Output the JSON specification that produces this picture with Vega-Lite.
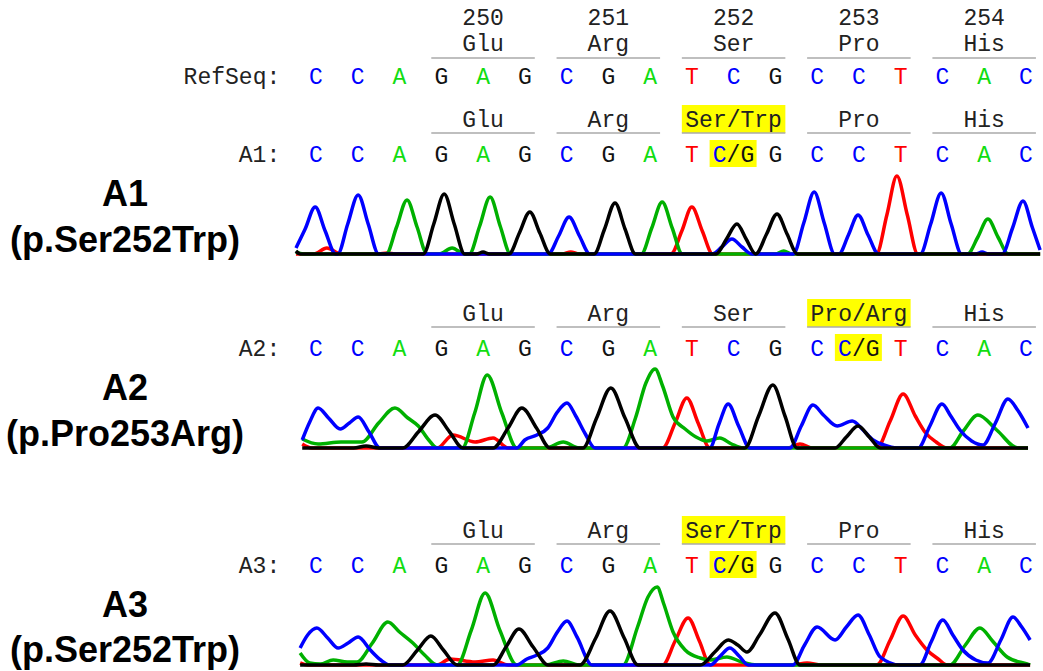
{
"$schema": "https://vega.github.io/schema/vega-lite/v6.json",
"padding": 0,
"background": "white",
"spacing": 0,
"bounds": "flush",
"columns": 2,
"config": {"view": {"stroke": null}, "axis": {"disable": true}, "legend": {"disable": true}},
"datasets": {
"bases": [
{"s":"RefSeq","pos":1,"b":"C"},{"s":"RefSeq","pos":2,"b":"C"},{"s":"RefSeq","pos":3,"b":"A"},{"s":"RefSeq","pos":4,"b":"G"},{"s":"RefSeq","pos":5,"b":"A"},{"s":"RefSeq","pos":6,"b":"G"},{"s":"RefSeq","pos":7,"b":"C"},{"s":"RefSeq","pos":8,"b":"G"},{"s":"RefSeq","pos":9,"b":"A"},{"s":"RefSeq","pos":10,"b":"T"},{"s":"RefSeq","pos":11,"b":"C"},{"s":"RefSeq","pos":12,"b":"G"},{"s":"RefSeq","pos":13,"b":"C"},{"s":"RefSeq","pos":14,"b":"C"},{"s":"RefSeq","pos":15,"b":"T"},{"s":"RefSeq","pos":16,"b":"C"},{"s":"RefSeq","pos":17,"b":"A"},{"s":"RefSeq","pos":18,"b":"C"},
{"s":"A1","pos":1,"b":"C"},{"s":"A1","pos":2,"b":"C"},{"s":"A1","pos":3,"b":"A"},{"s":"A1","pos":4,"b":"G"},{"s":"A1","pos":5,"b":"A"},{"s":"A1","pos":6,"b":"G"},{"s":"A1","pos":7,"b":"C"},{"s":"A1","pos":8,"b":"G"},{"s":"A1","pos":9,"b":"A"},{"s":"A1","pos":10,"b":"T"},{"s":"A1","pos":12,"b":"G"},{"s":"A1","pos":13,"b":"C"},{"s":"A1","pos":14,"b":"C"},{"s":"A1","pos":15,"b":"T"},{"s":"A1","pos":16,"b":"C"},{"s":"A1","pos":17,"b":"A"},{"s":"A1","pos":18,"b":"C"},
{"s":"A2","pos":1,"b":"C"},{"s":"A2","pos":2,"b":"C"},{"s":"A2","pos":3,"b":"A"},{"s":"A2","pos":4,"b":"G"},{"s":"A2","pos":5,"b":"A"},{"s":"A2","pos":6,"b":"G"},{"s":"A2","pos":7,"b":"C"},{"s":"A2","pos":8,"b":"G"},{"s":"A2","pos":9,"b":"A"},{"s":"A2","pos":10,"b":"T"},{"s":"A2","pos":11,"b":"C"},{"s":"A2","pos":12,"b":"G"},{"s":"A2","pos":13,"b":"C"},{"s":"A2","pos":15,"b":"T"},{"s":"A2","pos":16,"b":"C"},{"s":"A2","pos":17,"b":"A"},{"s":"A2","pos":18,"b":"C"},
{"s":"A3","pos":1,"b":"C"},{"s":"A3","pos":2,"b":"C"},{"s":"A3","pos":3,"b":"A"},{"s":"A3","pos":4,"b":"G"},{"s":"A3","pos":5,"b":"A"},{"s":"A3","pos":6,"b":"G"},{"s":"A3","pos":7,"b":"C"},{"s":"A3","pos":8,"b":"G"},{"s":"A3","pos":9,"b":"A"},{"s":"A3","pos":10,"b":"T"},{"s":"A3","pos":12,"b":"G"},{"s":"A3","pos":13,"b":"C"},{"s":"A3","pos":14,"b":"C"},{"s":"A3","pos":15,"b":"T"},{"s":"A3","pos":16,"b":"C"},{"s":"A3","pos":17,"b":"A"},{"s":"A3","pos":18,"b":"C"}
],
"het": [
{"s":"A1","pos":11,"b1":"C","b2":"/G"},
{"s":"A2","pos":14,"b1":"C","b2":"/G"},
{"s":"A3","pos":11,"b1":"C","b2":"/G"}
],
"codons": [
{"s":"RefSeq","start":4,"mid":5,"end":6,"aa":"Glu","num":"250","hl":false},
{"s":"RefSeq","start":7,"mid":8,"end":9,"aa":"Arg","num":"251","hl":false},
{"s":"RefSeq","start":10,"mid":11,"end":12,"aa":"Ser","num":"252","hl":false},
{"s":"RefSeq","start":13,"mid":14,"end":15,"aa":"Pro","num":"253","hl":false},
{"s":"RefSeq","start":16,"mid":17,"end":18,"aa":"His","num":"254","hl":false},
{"s":"A1","start":4,"mid":5,"end":6,"aa":"Glu","hl":false},
{"s":"A1","start":7,"mid":8,"end":9,"aa":"Arg","hl":false},
{"s":"A1","start":10,"mid":11,"end":12,"aa":"Ser/Trp","hl":true},
{"s":"A1","start":13,"mid":14,"end":15,"aa":"Pro","hl":false},
{"s":"A1","start":16,"mid":17,"end":18,"aa":"His","hl":false},
{"s":"A2","start":4,"mid":5,"end":6,"aa":"Glu","hl":false},
{"s":"A2","start":7,"mid":8,"end":9,"aa":"Arg","hl":false},
{"s":"A2","start":10,"mid":11,"end":12,"aa":"Ser","hl":false},
{"s":"A2","start":13,"mid":14,"end":15,"aa":"Pro/Arg","hl":true},
{"s":"A2","start":16,"mid":17,"end":18,"aa":"His","hl":false},
{"s":"A3","start":4,"mid":5,"end":6,"aa":"Glu","hl":false},
{"s":"A3","start":7,"mid":8,"end":9,"aa":"Arg","hl":false},
{"s":"A3","start":10,"mid":11,"end":12,"aa":"Ser/Trp","hl":true},
{"s":"A3","start":13,"mid":14,"end":15,"aa":"Pro","hl":false},
{"s":"A3","start":16,"mid":17,"end":18,"aa":"His","hl":false}
],
"prefix": [
{"s":"RefSeq","t":"RefSeq:"},{"s":"A1","t":"A1:"},{"s":"A2","t":"A2:"},{"s":"A3","t":"A3:"}
],
"labels": [
{"s":"A1","line":"name","t":"A1"},{"s":"A1","line":"mut","t":"(p.Ser252Trp)"},
{"s":"A2","line":"name","t":"A2"},{"s":"A2","line":"mut","t":"(p.Pro253Arg)"},
{"s":"A3","line":"name","t":"A3"},{"s":"A3","line":"mut","t":"(p.Ser252Trp)"}
],
"traces": [
{"s":"A1","d":"T","p":0.52,"v":0},{"s":"A1","d":"T","p":0.95,"v":0},{"s":"A1","d":"T","p":1.26,"v":6},{"s":"A1","d":"T","p":1.6,"v":0},{"s":"A1","d":"T","p":2.5,"v":0},{"s":"A1","d":"T","p":2.7,"v":1},{"s":"A1","d":"T","p":2.9,"v":0},{"s":"A1","d":"T","p":6.9,"v":0},{"s":"A1","d":"T","p":7.1,"v":2},{"s":"A1","d":"T","p":7.3,"v":0},{"s":"A1","d":"T","p":9.5,"v":0},{"s":"A1","d":"T","p":9.76,"v":23},{"s":"A1","d":"T","p":10.0,"v":47},{"s":"A1","d":"T","p":10.25,"v":23},{"s":"A1","d":"T","p":10.5,"v":0},{"s":"A1","d":"T","p":14.42,"v":0},{"s":"A1","d":"T","p":14.67,"v":39},{"s":"A1","d":"T","p":14.91,"v":78},{"s":"A1","d":"T","p":15.16,"v":39},{"s":"A1","d":"T","p":15.41,"v":0},{"s":"A1","d":"T","p":18.34,"v":0},
{"s":"A1","d":"A","p":0.52,"v":2},{"s":"A1","d":"A","p":0.7,"v":0},{"s":"A1","d":"A","p":2.68,"v":0},{"s":"A1","d":"A","p":2.93,"v":27},{"s":"A1","d":"A","p":3.18,"v":54},{"s":"A1","d":"A","p":3.42,"v":27},{"s":"A1","d":"A","p":3.66,"v":0},{"s":"A1","d":"A","p":3.95,"v":0},{"s":"A1","d":"A","p":4.26,"v":6},{"s":"A1","d":"A","p":4.55,"v":0},{"s":"A1","d":"A","p":4.67,"v":0},{"s":"A1","d":"A","p":4.92,"v":28},{"s":"A1","d":"A","p":5.17,"v":57},{"s":"A1","d":"A","p":5.41,"v":28},{"s":"A1","d":"A","p":5.66,"v":0},{"s":"A1","d":"A","p":8.79,"v":0},{"s":"A1","d":"A","p":9.04,"v":26},{"s":"A1","d":"A","p":9.29,"v":52},{"s":"A1","d":"A","p":9.53,"v":26},{"s":"A1","d":"A","p":9.77,"v":0},{"s":"A1","d":"A","p":12.0,"v":0},{"s":"A1","d":"A","p":12.2,"v":3},{"s":"A1","d":"A","p":12.4,"v":0},{"s":"A1","d":"A","p":16.6,"v":0},{"s":"A1","d":"A","p":16.85,"v":17},{"s":"A1","d":"A","p":17.09,"v":35},{"s":"A1","d":"A","p":17.33,"v":17},{"s":"A1","d":"A","p":17.58,"v":0},{"s":"A1","d":"A","p":18.34,"v":0},
{"s":"A1","d":"C","p":0.52,"v":6},{"s":"A1","d":"C","p":0.74,"v":25},{"s":"A1","d":"C","p":0.98,"v":47},{"s":"A1","d":"C","p":1.22,"v":23},{"s":"A1","d":"C","p":1.47,"v":0},{"s":"A1","d":"C","p":1.52,"v":0},{"s":"A1","d":"C","p":1.76,"v":30},{"s":"A1","d":"C","p":2.01,"v":59},{"s":"A1","d":"C","p":2.25,"v":30},{"s":"A1","d":"C","p":2.5,"v":0},{"s":"A1","d":"C","p":6.56,"v":0},{"s":"A1","d":"C","p":6.81,"v":18},{"s":"A1","d":"C","p":7.06,"v":37},{"s":"A1","d":"C","p":7.31,"v":18},{"s":"A1","d":"C","p":7.56,"v":0},{"s":"A1","d":"C","p":10.48,"v":0},{"s":"A1","d":"C","p":10.72,"v":7},{"s":"A1","d":"C","p":10.96,"v":15},{"s":"A1","d":"C","p":11.2,"v":7},{"s":"A1","d":"C","p":11.44,"v":0},{"s":"A1","d":"C","p":12.43,"v":0},{"s":"A1","d":"C","p":12.68,"v":31},{"s":"A1","d":"C","p":12.93,"v":62},{"s":"A1","d":"C","p":13.17,"v":31},{"s":"A1","d":"C","p":13.42,"v":0},{"s":"A1","d":"C","p":13.52,"v":0},{"s":"A1","d":"C","p":13.75,"v":19},{"s":"A1","d":"C","p":13.98,"v":39},{"s":"A1","d":"C","p":14.22,"v":19},{"s":"A1","d":"C","p":14.47,"v":0},{"s":"A1","d":"C","p":15.47,"v":0},{"s":"A1","d":"C","p":15.72,"v":30},{"s":"A1","d":"C","p":15.97,"v":61},{"s":"A1","d":"C","p":16.21,"v":30},{"s":"A1","d":"C","p":16.46,"v":0},{"s":"A1","d":"C","p":16.8,"v":0},{"s":"A1","d":"C","p":16.95,"v":2},{"s":"A1","d":"C","p":17.1,"v":0},{"s":"A1","d":"C","p":17.43,"v":0},{"s":"A1","d":"C","p":17.68,"v":26},{"s":"A1","d":"C","p":17.93,"v":53},{"s":"A1","d":"C","p":18.15,"v":27},{"s":"A1","d":"C","p":18.34,"v":4},
{"s":"A1","d":"G","p":0.52,"v":3},{"s":"A1","d":"G","p":0.62,"v":0},{"s":"A1","d":"G","p":3.57,"v":0},{"s":"A1","d":"G","p":3.82,"v":30},{"s":"A1","d":"G","p":4.07,"v":60},{"s":"A1","d":"G","p":4.31,"v":30},{"s":"A1","d":"G","p":4.56,"v":0},{"s":"A1","d":"G","p":4.85,"v":0},{"s":"A1","d":"G","p":5.0,"v":2},{"s":"A1","d":"G","p":5.15,"v":0},{"s":"A1","d":"G","p":5.62,"v":0},{"s":"A1","d":"G","p":5.87,"v":21},{"s":"A1","d":"G","p":6.12,"v":42},{"s":"A1","d":"G","p":6.36,"v":21},{"s":"A1","d":"G","p":6.61,"v":0},{"s":"A1","d":"G","p":7.66,"v":0},{"s":"A1","d":"G","p":7.91,"v":25},{"s":"A1","d":"G","p":8.16,"v":51},{"s":"A1","d":"G","p":8.4,"v":25},{"s":"A1","d":"G","p":8.65,"v":0},{"s":"A1","d":"G","p":10.58,"v":0},{"s":"A1","d":"G","p":10.83,"v":15},{"s":"A1","d":"G","p":11.08,"v":30},{"s":"A1","d":"G","p":11.3,"v":15},{"s":"A1","d":"G","p":11.53,"v":0},{"s":"A1","d":"G","p":11.79,"v":20},{"s":"A1","d":"G","p":12.04,"v":40},{"s":"A1","d":"G","p":12.28,"v":20},{"s":"A1","d":"G","p":12.53,"v":0},{"s":"A1","d":"G","p":18.34,"v":0},
{"s":"A2","d":"T","p":0.67,"v":4},{"s":"A2","d":"T","p":0.9,"v":0},{"s":"A2","d":"T","p":3.9,"v":0},{"s":"A2","d":"T","p":4.28,"v":13},{"s":"A2","d":"T","p":4.81,"v":6},{"s":"A2","d":"T","p":5.24,"v":10},{"s":"A2","d":"T","p":5.6,"v":0},{"s":"A2","d":"T","p":9.3,"v":0},{"s":"A2","d":"T","p":9.6,"v":25},{"s":"A2","d":"T","p":9.88,"v":50},{"s":"A2","d":"T","p":10.15,"v":25},{"s":"A2","d":"T","p":10.43,"v":0},{"s":"A2","d":"T","p":12.3,"v":0},{"s":"A2","d":"T","p":12.59,"v":4},{"s":"A2","d":"T","p":12.9,"v":0},{"s":"A2","d":"T","p":14.43,"v":0},{"s":"A2","d":"T","p":14.75,"v":27},{"s":"A2","d":"T","p":15.06,"v":54},{"s":"A2","d":"T","p":15.35,"v":32},{"s":"A2","d":"T","p":15.6,"v":15},{"s":"A2","d":"T","p":15.85,"v":6},{"s":"A2","d":"T","p":16.11,"v":0},{"s":"A2","d":"T","p":18.05,"v":0},
{"s":"A2","d":"A","p":0.67,"v":9},{"s":"A2","d":"A","p":1.05,"v":4},{"s":"A2","d":"A","p":1.6,"v":6},{"s":"A2","d":"A","p":2.1,"v":6},{"s":"A2","d":"A","p":2.5,"v":25},{"s":"A2","d":"A","p":2.89,"v":40},{"s":"A2","d":"A","p":3.2,"v":30},{"s":"A2","d":"A","p":3.45,"v":22},{"s":"A2","d":"A","p":3.7,"v":8},{"s":"A2","d":"A","p":3.9,"v":0},{"s":"A2","d":"A","p":4.5,"v":0},{"s":"A2","d":"A","p":4.8,"v":35},{"s":"A2","d":"A","p":5.1,"v":73},{"s":"A2","d":"A","p":5.45,"v":35},{"s":"A2","d":"A","p":5.81,"v":0},{"s":"A2","d":"A","p":6.5,"v":0},{"s":"A2","d":"A","p":6.92,"v":6},{"s":"A2","d":"A","p":7.3,"v":0},{"s":"A2","d":"A","p":8.35,"v":0},{"s":"A2","d":"A","p":8.65,"v":30},{"s":"A2","d":"A","p":8.9,"v":65},{"s":"A2","d":"A","p":9.12,"v":79},{"s":"A2","d":"A","p":9.3,"v":62},{"s":"A2","d":"A","p":9.55,"v":31},{"s":"A2","d":"A","p":9.84,"v":19},{"s":"A2","d":"A","p":10.1,"v":11},{"s":"A2","d":"A","p":10.36,"v":7},{"s":"A2","d":"A","p":10.67,"v":10},{"s":"A2","d":"A","p":10.95,"v":4},{"s":"A2","d":"A","p":11.23,"v":0},{"s":"A2","d":"A","p":16.18,"v":0},{"s":"A2","d":"A","p":16.5,"v":17},{"s":"A2","d":"A","p":16.85,"v":33},{"s":"A2","d":"A","p":17.3,"v":18},{"s":"A2","d":"A","p":17.81,"v":0},{"s":"A2","d":"A","p":18.05,"v":0},
{"s":"A2","d":"C","p":0.67,"v":8},{"s":"A2","d":"C","p":0.85,"v":26},{"s":"A2","d":"C","p":1.05,"v":40},{"s":"A2","d":"C","p":1.3,"v":30},{"s":"A2","d":"C","p":1.58,"v":19},{"s":"A2","d":"C","p":1.8,"v":25},{"s":"A2","d":"C","p":2.01,"v":31},{"s":"A2","d":"C","p":2.27,"v":16},{"s":"A2","d":"C","p":2.53,"v":0},{"s":"A2","d":"C","p":5.81,"v":0},{"s":"A2","d":"C","p":6.0,"v":8},{"s":"A2","d":"C","p":6.29,"v":13},{"s":"A2","d":"C","p":6.55,"v":20},{"s":"A2","d":"C","p":6.78,"v":36},{"s":"A2","d":"C","p":7.01,"v":45},{"s":"A2","d":"C","p":7.22,"v":32},{"s":"A2","d":"C","p":7.45,"v":14},{"s":"A2","d":"C","p":7.68,"v":0},{"s":"A2","d":"C","p":10.43,"v":0},{"s":"A2","d":"C","p":10.65,"v":24},{"s":"A2","d":"C","p":10.87,"v":44},{"s":"A2","d":"C","p":11.12,"v":22},{"s":"A2","d":"C","p":11.39,"v":0},{"s":"A2","d":"C","p":12.35,"v":0},{"s":"A2","d":"C","p":12.62,"v":22},{"s":"A2","d":"C","p":12.9,"v":43},{"s":"A2","d":"C","p":13.15,"v":33},{"s":"A2","d":"C","p":13.48,"v":22},{"s":"A2","d":"C","p":13.84,"v":27},{"s":"A2","d":"C","p":14.1,"v":18},{"s":"A2","d":"C","p":14.34,"v":8},{"s":"A2","d":"C","p":14.6,"v":3},{"s":"A2","d":"C","p":14.91,"v":0},{"s":"A2","d":"C","p":15.42,"v":0},{"s":"A2","d":"C","p":15.7,"v":22},{"s":"A2","d":"C","p":15.99,"v":44},{"s":"A2","d":"C","p":16.2,"v":32},{"s":"A2","d":"C","p":16.42,"v":18},{"s":"A2","d":"C","p":16.7,"v":7},{"s":"A2","d":"C","p":16.97,"v":3},{"s":"A2","d":"C","p":17.27,"v":25},{"s":"A2","d":"C","p":17.57,"v":49},{"s":"A2","d":"C","p":17.8,"v":38},{"s":"A2","d":"C","p":18.05,"v":20},
{"s":"A2","d":"G","p":0.67,"v":0},{"s":"A2","d":"G","p":1.9,"v":0},{"s":"A2","d":"G","p":2.2,"v":2},{"s":"A2","d":"G","p":2.5,"v":0},{"s":"A2","d":"G","p":3.08,"v":0},{"s":"A2","d":"G","p":3.45,"v":16},{"s":"A2","d":"G","p":3.85,"v":33},{"s":"A2","d":"G","p":4.2,"v":16},{"s":"A2","d":"G","p":4.52,"v":0},{"s":"A2","d":"G","p":5.24,"v":0},{"s":"A2","d":"G","p":5.6,"v":20},{"s":"A2","d":"G","p":5.93,"v":40},{"s":"A2","d":"G","p":6.28,"v":20},{"s":"A2","d":"G","p":6.6,"v":0},{"s":"A2","d":"G","p":7.39,"v":0},{"s":"A2","d":"G","p":7.72,"v":30},{"s":"A2","d":"G","p":8.06,"v":60},{"s":"A2","d":"G","p":8.4,"v":30},{"s":"A2","d":"G","p":8.76,"v":0},{"s":"A2","d":"G","p":11.27,"v":0},{"s":"A2","d":"G","p":11.6,"v":32},{"s":"A2","d":"G","p":11.94,"v":63},{"s":"A2","d":"G","p":12.23,"v":32},{"s":"A2","d":"G","p":12.52,"v":0},{"s":"A2","d":"G","p":13.43,"v":0},{"s":"A2","d":"G","p":13.7,"v":11},{"s":"A2","d":"G","p":13.98,"v":22},{"s":"A2","d":"G","p":14.25,"v":11},{"s":"A2","d":"G","p":14.51,"v":0},{"s":"A2","d":"G","p":18.05,"v":0},
{"s":"A3","d":"T","p":0.62,"v":2},{"s":"A3","d":"T","p":0.8,"v":0},{"s":"A3","d":"T","p":3.9,"v":0},{"s":"A3","d":"T","p":4.21,"v":6},{"s":"A3","d":"T","p":4.81,"v":3},{"s":"A3","d":"T","p":5.24,"v":5},{"s":"A3","d":"T","p":5.6,"v":0},{"s":"A3","d":"T","p":9.3,"v":0},{"s":"A3","d":"T","p":9.6,"v":24},{"s":"A3","d":"T","p":9.91,"v":47},{"s":"A3","d":"T","p":10.18,"v":24},{"s":"A3","d":"T","p":10.44,"v":0},{"s":"A3","d":"T","p":12.4,"v":0},{"s":"A3","d":"T","p":12.76,"v":2},{"s":"A3","d":"T","p":13.1,"v":0},{"s":"A3","d":"T","p":14.43,"v":0},{"s":"A3","d":"T","p":14.75,"v":25},{"s":"A3","d":"T","p":15.06,"v":49},{"s":"A3","d":"T","p":15.35,"v":30},{"s":"A3","d":"T","p":15.63,"v":15},{"s":"A3","d":"T","p":15.9,"v":6},{"s":"A3","d":"T","p":16.11,"v":0},{"s":"A3","d":"T","p":18.1,"v":0},
{"s":"A3","d":"A","p":0.62,"v":12},{"s":"A3","d":"A","p":0.85,"v":2},{"s":"A3","d":"A","p":1.1,"v":1},{"s":"A3","d":"A","p":1.41,"v":5},{"s":"A3","d":"A","p":1.75,"v":3},{"s":"A3","d":"A","p":1.98,"v":3},{"s":"A3","d":"A","p":2.35,"v":22},{"s":"A3","d":"A","p":2.72,"v":43},{"s":"A3","d":"A","p":3.0,"v":33},{"s":"A3","d":"A","p":3.32,"v":22},{"s":"A3","d":"A","p":3.6,"v":10},{"s":"A3","d":"A","p":3.9,"v":0},{"s":"A3","d":"A","p":4.38,"v":0},{"s":"A3","d":"A","p":4.72,"v":35},{"s":"A3","d":"A","p":5.05,"v":72},{"s":"A3","d":"A","p":5.4,"v":35},{"s":"A3","d":"A","p":5.81,"v":0},{"s":"A3","d":"A","p":6.5,"v":0},{"s":"A3","d":"A","p":6.92,"v":4},{"s":"A3","d":"A","p":7.3,"v":0},{"s":"A3","d":"A","p":8.35,"v":0},{"s":"A3","d":"A","p":8.7,"v":38},{"s":"A3","d":"A","p":8.95,"v":68},{"s":"A3","d":"A","p":9.17,"v":78},{"s":"A3","d":"A","p":9.32,"v":62},{"s":"A3","d":"A","p":9.55,"v":33},{"s":"A3","d":"A","p":9.84,"v":15},{"s":"A3","d":"A","p":10.2,"v":7},{"s":"A3","d":"A","p":10.44,"v":5},{"s":"A3","d":"A","p":10.84,"v":8},{"s":"A3","d":"A","p":11.2,"v":3},{"s":"A3","d":"A","p":11.56,"v":0},{"s":"A3","d":"A","p":16.18,"v":0},{"s":"A3","d":"A","p":16.55,"v":20},{"s":"A3","d":"A","p":16.9,"v":37},{"s":"A3","d":"A","p":17.2,"v":24},{"s":"A3","d":"A","p":17.55,"v":8},{"s":"A3","d":"A","p":18.03,"v":1},{"s":"A3","d":"A","p":18.1,"v":0},
{"s":"A3","d":"C","p":0.62,"v":17},{"s":"A3","d":"C","p":0.8,"v":30},{"s":"A3","d":"C","p":1.02,"v":37},{"s":"A3","d":"C","p":1.28,"v":27},{"s":"A3","d":"C","p":1.53,"v":17},{"s":"A3","d":"C","p":1.77,"v":22},{"s":"A3","d":"C","p":2.01,"v":28},{"s":"A3","d":"C","p":2.3,"v":15},{"s":"A3","d":"C","p":2.55,"v":5},{"s":"A3","d":"C","p":2.77,"v":0},{"s":"A3","d":"C","p":5.81,"v":0},{"s":"A3","d":"C","p":6.05,"v":6},{"s":"A3","d":"C","p":6.29,"v":10},{"s":"A3","d":"C","p":6.55,"v":17},{"s":"A3","d":"C","p":6.78,"v":33},{"s":"A3","d":"C","p":7.01,"v":44},{"s":"A3","d":"C","p":7.25,"v":28},{"s":"A3","d":"C","p":7.61,"v":0},{"s":"A3","d":"C","p":10.44,"v":0},{"s":"A3","d":"C","p":10.68,"v":9},{"s":"A3","d":"C","p":10.91,"v":17},{"s":"A3","d":"C","p":11.13,"v":9},{"s":"A3","d":"C","p":11.35,"v":0},{"s":"A3","d":"C","p":12.42,"v":0},{"s":"A3","d":"C","p":12.7,"v":20},{"s":"A3","d":"C","p":13.0,"v":38},{"s":"A3","d":"C","p":13.43,"v":25},{"s":"A3","d":"C","p":13.7,"v":38},{"s":"A3","d":"C","p":13.98,"v":50},{"s":"A3","d":"C","p":14.25,"v":30},{"s":"A3","d":"C","p":14.51,"v":8},{"s":"A3","d":"C","p":14.99,"v":0},{"s":"A3","d":"C","p":15.46,"v":0},{"s":"A3","d":"C","p":15.73,"v":23},{"s":"A3","d":"C","p":16.01,"v":45},{"s":"A3","d":"C","p":16.25,"v":30},{"s":"A3","d":"C","p":16.49,"v":15},{"s":"A3","d":"C","p":16.8,"v":5},{"s":"A3","d":"C","p":17.09,"v":2},{"s":"A3","d":"C","p":17.4,"v":25},{"s":"A3","d":"C","p":17.69,"v":48},{"s":"A3","d":"C","p":17.9,"v":38},{"s":"A3","d":"C","p":18.1,"v":25},
{"s":"A3","d":"G","p":0.62,"v":0},{"s":"A3","d":"G","p":1.9,"v":0},{"s":"A3","d":"G","p":2.2,"v":1},{"s":"A3","d":"G","p":2.5,"v":0},{"s":"A3","d":"G","p":3.08,"v":0},{"s":"A3","d":"G","p":3.43,"v":15},{"s":"A3","d":"G","p":3.75,"v":29},{"s":"A3","d":"G","p":4.05,"v":15},{"s":"A3","d":"G","p":4.38,"v":0},{"s":"A3","d":"G","p":5.24,"v":0},{"s":"A3","d":"G","p":5.55,"v":18},{"s":"A3","d":"G","p":5.86,"v":36},{"s":"A3","d":"G","p":6.2,"v":18},{"s":"A3","d":"G","p":6.56,"v":0},{"s":"A3","d":"G","p":7.32,"v":0},{"s":"A3","d":"G","p":7.7,"v":27},{"s":"A3","d":"G","p":8.04,"v":54},{"s":"A3","d":"G","p":8.38,"v":27},{"s":"A3","d":"G","p":8.71,"v":0},{"s":"A3","d":"G","p":10.2,"v":0},{"s":"A3","d":"G","p":10.55,"v":13},{"s":"A3","d":"G","p":10.87,"v":25},{"s":"A3","d":"G","p":11.1,"v":20},{"s":"A3","d":"G","p":11.32,"v":13},{"s":"A3","d":"G","p":11.62,"v":30},{"s":"A3","d":"G","p":11.99,"v":52},{"s":"A3","d":"G","p":12.3,"v":26},{"s":"A3","d":"G","p":12.59,"v":0},{"s":"A3","d":"G","p":18.1,"v":0}
]
},
"resolve": {"scale": {"x": "independent", "y": "independent", "color": "independent"}},
"concat": [
{"width": 250, "height": 100, "data": {"name": "labels"}, "transform": [{"filter": "datum.s === 'RefSeq'"}],
 "mark": {"type": "text", "font": "Liberation Sans", "fontWeight": "bold", "fontSize": 35},
 "encoding": {"text": {"field": "t"}}},
{
"width": 793, "height": 100,
"resolve": {"scale": {"y": "independent", "color": "independent"}},
"layer": [
{"data": {"name": "codons"}, "transform": [{"filter": "datum.s === 'RefSeq'"}],
 "mark": {"type": "rule", "color": "#aaaaaa", "strokeWidth": 1.5, "xOffset": -10, "x2Offset": 10, "yOffset": 14},
 "encoding": {"x": {"field": "start", "type": "quantitative", "scale": {"domain": [-0.5805, 18.409], "nice": false, "zero": false}}, "x2": {"field": "end"},
  "y": {"datum": "aa", "type": "nominal", "scale": {"type": "point", "domain": ["aa", "base"], "range": [44, 77], "padding": 0}}}},
{"data": {"name": "codons"}, "transform": [{"filter": "datum.s === 'RefSeq'"}],
 "mark": {"type": "text", "font": "Liberation Mono", "fontSize": 23, "color": "#222222", "dy": -26},
 "encoding": {"x": {"field": "mid", "type": "quantitative", "scale": {"domain": [-0.5805, 18.409], "nice": false, "zero": false}},
  "y": {"datum": "aa", "type": "nominal", "scale": {"type": "point", "domain": ["aa", "base"], "range": [44, 77], "padding": 0}}, "text": {"field": "num"}}},
{"data": {"name": "codons"}, "transform": [{"filter": "datum.s === 'RefSeq'"}],
 "mark": {"type": "text", "font": "Liberation Mono", "fontSize": 23, "color": "#222222"},
 "encoding": {"x": {"field": "mid", "type": "quantitative", "scale": {"domain": [-0.5805, 18.409], "nice": false, "zero": false}},
  "y": {"datum": "aa", "type": "nominal", "scale": {"type": "point", "domain": ["aa", "base"], "range": [44, 77], "padding": 0}}, "text": {"field": "aa"}}},
{"data": {"name": "prefix"}, "transform": [{"filter": "datum.s === 'RefSeq'"}],
 "mark": {"type": "text", "font": "Liberation Mono", "fontSize": 23, "color": "#222222", "align": "right", "dx": 6},
 "encoding": {"x": {"datum": 0, "type": "quantitative", "scale": {"domain": [-0.5805, 18.409], "nice": false, "zero": false}},
  "y": {"datum": "base", "type": "nominal", "scale": {"type": "point", "domain": ["aa", "base"], "range": [44, 77], "padding": 0}}, "text": {"field": "t"}}},
{"data": {"name": "bases"}, "transform": [{"filter": "datum.s === 'RefSeq'"}],
 "mark": {"type": "text", "font": "Liberation Mono", "fontSize": 23},
 "encoding": {"x": {"field": "pos", "type": "quantitative", "scale": {"domain": [-0.5805, 18.409], "nice": false, "zero": false}},
  "y": {"datum": "base", "type": "nominal", "scale": {"type": "point", "domain": ["aa", "base"], "range": [44, 77], "padding": 0}}, "text": {"field": "b"},
  "color": {"field": "b", "type": "nominal", "scale": {"domain": ["A", "C", "G", "T"], "range": ["#11dd11", "#0000ff", "#111111", "#ff0000"]}, "legend": null}}}
]
},
{"width": 250, "height": 194, "data": {"name": "labels"}, "transform": [{"filter": "datum.s === 'A1'"}],
 "mark": {"type": "text", "font": "Liberation Sans", "fontWeight": "bold", "fontSize": 36, "color": "#000000"},
 "encoding": {"y": {"field": "line", "type": "nominal", "scale": {"type": "point", "domain": ["name", "mut"], "range": [95, 141], "padding": 0}}, "text": {"field": "t"}}},
{"width": 793, "height": 194,
 "resolve": {"scale": {"y": "independent", "color": "independent"}},
 "layer": [
 {"data": {"name": "codons"}, "transform": [{"filter": "datum.s === 'A1' && datum.hl"}],
  "mark": {"type": "rect", "color": "#ffff00", "xOffset": -10, "x2Offset": 10, "yOffset": -15, "y2Offset": 13},
  "encoding": {"x": {"field": "start", "type": "quantitative", "scale": {"domain": [-0.5805, 18.409], "nice": false, "zero": false}}, "x2": {"field": "end"},
   "y": {"datum": "aa", "type": "nominal", "scale": {"type": "point", "domain": ["aa", "base"], "range": [20, 55], "padding": 0}}, "y2": {"datum": "aa"}}},
 {"data": {"name": "het"}, "transform": [{"filter": "datum.s === 'A1'"}],
  "mark": {"type": "rect", "color": "#ffff00", "xOffset": -24, "x2Offset": 23, "yOffset": -15, "y2Offset": 12},
  "encoding": {"x": {"field": "pos", "type": "quantitative", "scale": {"domain": [-0.5805, 18.409], "nice": false, "zero": false}}, "x2": {"field": "pos"},
   "y": {"datum": "base", "type": "nominal", "scale": {"type": "point", "domain": ["aa", "base"], "range": [20, 55], "padding": 0}}, "y2": {"datum": "base"}}},
 {"data": {"name": "codons"}, "transform": [{"filter": "datum.s === 'A1'"}],
  "mark": {"type": "rule", "color": "#aaaaaa", "strokeWidth": 1.5, "xOffset": -10, "x2Offset": 10, "yOffset": 13},
  "encoding": {"x": {"field": "start", "type": "quantitative", "scale": {"domain": [-0.5805, 18.409], "nice": false, "zero": false}}, "x2": {"field": "end"},
   "y": {"datum": "aa", "type": "nominal", "scale": {"type": "point", "domain": ["aa", "base"], "range": [20, 55], "padding": 0}}}},
 {"data": {"name": "codons"}, "transform": [{"filter": "datum.s === 'A1'"}],
  "mark": {"type": "text", "font": "Liberation Mono", "fontSize": 23, "color": "#222222"},
  "encoding": {"x": {"field": "mid", "type": "quantitative", "scale": {"domain": [-0.5805, 18.409], "nice": false, "zero": false}},
   "y": {"datum": "aa", "type": "nominal", "scale": {"type": "point", "domain": ["aa", "base"], "range": [20, 55], "padding": 0}}, "text": {"field": "aa"}}},
 {"data": {"name": "prefix"}, "transform": [{"filter": "datum.s === 'A1'"}],
  "mark": {"type": "text", "font": "Liberation Mono", "fontSize": 23, "color": "#222222", "align": "right", "dx": 6},
  "encoding": {"x": {"datum": 0, "type": "quantitative", "scale": {"domain": [-0.5805, 18.409], "nice": false, "zero": false}},
   "y": {"datum": "base", "type": "nominal", "scale": {"type": "point", "domain": ["aa", "base"], "range": [20, 55], "padding": 0}}, "text": {"field": "t"}}},
 {"data": {"name": "bases"}, "transform": [{"filter": "datum.s === 'A1'"}],
  "mark": {"type": "text", "font": "Liberation Mono", "fontSize": 23},
  "encoding": {"x": {"field": "pos", "type": "quantitative", "scale": {"domain": [-0.5805, 18.409], "nice": false, "zero": false}},
   "y": {"datum": "base", "type": "nominal", "scale": {"type": "point", "domain": ["aa", "base"], "range": [20, 55], "padding": 0}}, "text": {"field": "b"},
   "color": {"field": "b", "type": "nominal", "scale": {"domain": ["A", "C", "G", "T"], "range": ["#11dd11", "#0000ff", "#111111", "#ff0000"]}, "legend": null}}},
 {"data": {"name": "het"}, "transform": [{"filter": "datum.s === 'A1'"}],
  "mark": {"type": "text", "font": "Liberation Mono", "fontSize": 23, "align": "right", "dx": -7, "color": "#0000ff"},
  "encoding": {"x": {"field": "pos", "type": "quantitative", "scale": {"domain": [-0.5805, 18.409], "nice": false, "zero": false}},
   "y": {"datum": "base", "type": "nominal", "scale": {"type": "point", "domain": ["aa", "base"], "range": [20, 55], "padding": 0}}, "text": {"field": "b1"}}},
 {"data": {"name": "het"}, "transform": [{"filter": "datum.s === 'A1'"}],
  "mark": {"type": "text", "font": "Liberation Mono", "fontSize": 23, "align": "left", "dx": -7, "color": "#111111"},
  "encoding": {"x": {"field": "pos", "type": "quantitative", "scale": {"domain": [-0.5805, 18.409], "nice": false, "zero": false}},
   "y": {"datum": "base", "type": "nominal", "scale": {"type": "point", "domain": ["aa", "base"], "range": [20, 55], "padding": 0}}, "text": {"field": "b2"}}},
 {"data": {"name": "traces"}, "transform": [{"filter": "datum.s === 'A1'"}],
  "mark": {"type": "line", "interpolate": "monotone", "strokeWidth": 3.5},
  "encoding": {"x": {"field": "p", "type": "quantitative", "scale": {"domain": [-0.5805, 18.409], "nice": false, "zero": false}},
   "y": {"field": "v", "type": "quantitative", "scale": {"domain": [0, 100], "range": [154, 54], "nice": false, "zero": false}},
   "color": {"field": "d", "type": "nominal", "scale": {"domain": ["A", "C", "G", "T"], "range": ["#00b000", "#0000ff", "#000000", "#ff0000"]}, "legend": null}}}
 ]},
{"width": 250, "height": 217, "data": {"name": "labels"}, "transform": [{"filter": "datum.s === 'A2'"}],
 "mark": {"type": "text", "font": "Liberation Sans", "fontWeight": "bold", "fontSize": 36, "color": "#000000"},
 "encoding": {"y": {"field": "line", "type": "nominal", "scale": {"type": "point", "domain": ["name", "mut"], "range": [95, 141], "padding": 0}}, "text": {"field": "t"}}},
{"width": 793, "height": 217,
 "resolve": {"scale": {"y": "independent", "color": "independent"}},
 "layer": [
 {"data": {"name": "codons"}, "transform": [{"filter": "datum.s === 'A2' && datum.hl"}],
  "mark": {"type": "rect", "color": "#ffff00", "xOffset": -10, "x2Offset": 10, "yOffset": -15, "y2Offset": 13},
  "encoding": {"x": {"field": "start", "type": "quantitative", "scale": {"domain": [-0.5805, 18.409], "nice": false, "zero": false}}, "x2": {"field": "end"},
   "y": {"datum": "aa", "type": "nominal", "scale": {"type": "point", "domain": ["aa", "base"], "range": [20, 55], "padding": 0}}, "y2": {"datum": "aa"}}},
 {"data": {"name": "het"}, "transform": [{"filter": "datum.s === 'A2'"}],
  "mark": {"type": "rect", "color": "#ffff00", "xOffset": -24, "x2Offset": 23, "yOffset": -15, "y2Offset": 12},
  "encoding": {"x": {"field": "pos", "type": "quantitative", "scale": {"domain": [-0.5805, 18.409], "nice": false, "zero": false}}, "x2": {"field": "pos"},
   "y": {"datum": "base", "type": "nominal", "scale": {"type": "point", "domain": ["aa", "base"], "range": [20, 55], "padding": 0}}, "y2": {"datum": "base"}}},
 {"data": {"name": "codons"}, "transform": [{"filter": "datum.s === 'A2'"}],
  "mark": {"type": "rule", "color": "#aaaaaa", "strokeWidth": 1.5, "xOffset": -10, "x2Offset": 10, "yOffset": 13},
  "encoding": {"x": {"field": "start", "type": "quantitative", "scale": {"domain": [-0.5805, 18.409], "nice": false, "zero": false}}, "x2": {"field": "end"},
   "y": {"datum": "aa", "type": "nominal", "scale": {"type": "point", "domain": ["aa", "base"], "range": [20, 55], "padding": 0}}}},
 {"data": {"name": "codons"}, "transform": [{"filter": "datum.s === 'A2'"}],
  "mark": {"type": "text", "font": "Liberation Mono", "fontSize": 23, "color": "#222222"},
  "encoding": {"x": {"field": "mid", "type": "quantitative", "scale": {"domain": [-0.5805, 18.409], "nice": false, "zero": false}},
   "y": {"datum": "aa", "type": "nominal", "scale": {"type": "point", "domain": ["aa", "base"], "range": [20, 55], "padding": 0}}, "text": {"field": "aa"}}},
 {"data": {"name": "prefix"}, "transform": [{"filter": "datum.s === 'A2'"}],
  "mark": {"type": "text", "font": "Liberation Mono", "fontSize": 23, "color": "#222222", "align": "right", "dx": 6},
  "encoding": {"x": {"datum": 0, "type": "quantitative", "scale": {"domain": [-0.5805, 18.409], "nice": false, "zero": false}},
   "y": {"datum": "base", "type": "nominal", "scale": {"type": "point", "domain": ["aa", "base"], "range": [20, 55], "padding": 0}}, "text": {"field": "t"}}},
 {"data": {"name": "bases"}, "transform": [{"filter": "datum.s === 'A2'"}],
  "mark": {"type": "text", "font": "Liberation Mono", "fontSize": 23},
  "encoding": {"x": {"field": "pos", "type": "quantitative", "scale": {"domain": [-0.5805, 18.409], "nice": false, "zero": false}},
   "y": {"datum": "base", "type": "nominal", "scale": {"type": "point", "domain": ["aa", "base"], "range": [20, 55], "padding": 0}}, "text": {"field": "b"},
   "color": {"field": "b", "type": "nominal", "scale": {"domain": ["A", "C", "G", "T"], "range": ["#11dd11", "#0000ff", "#111111", "#ff0000"]}, "legend": null}}},
 {"data": {"name": "het"}, "transform": [{"filter": "datum.s === 'A2'"}],
  "mark": {"type": "text", "font": "Liberation Mono", "fontSize": 23, "align": "right", "dx": -7, "color": "#0000ff"},
  "encoding": {"x": {"field": "pos", "type": "quantitative", "scale": {"domain": [-0.5805, 18.409], "nice": false, "zero": false}},
   "y": {"datum": "base", "type": "nominal", "scale": {"type": "point", "domain": ["aa", "base"], "range": [20, 55], "padding": 0}}, "text": {"field": "b1"}}},
 {"data": {"name": "het"}, "transform": [{"filter": "datum.s === 'A2'"}],
  "mark": {"type": "text", "font": "Liberation Mono", "fontSize": 23, "align": "left", "dx": -7, "color": "#111111"},
  "encoding": {"x": {"field": "pos", "type": "quantitative", "scale": {"domain": [-0.5805, 18.409], "nice": false, "zero": false}},
   "y": {"datum": "base", "type": "nominal", "scale": {"type": "point", "domain": ["aa", "base"], "range": [20, 55], "padding": 0}}, "text": {"field": "b2"}}},
 {"data": {"name": "traces"}, "transform": [{"filter": "datum.s === 'A2'"}],
  "mark": {"type": "line", "interpolate": "monotone", "strokeWidth": 3.5},
  "encoding": {"x": {"field": "p", "type": "quantitative", "scale": {"domain": [-0.5805, 18.409], "nice": false, "zero": false}},
   "y": {"field": "v", "type": "quantitative", "scale": {"domain": [0, 100], "range": [154, 54], "nice": false, "zero": false}},
   "color": {"field": "d", "type": "nominal", "scale": {"domain": ["A", "C", "G", "T"], "range": ["#00b000", "#0000ff", "#000000", "#ff0000"]}, "legend": null}}}
 ]},
{"width": 250, "height": 160, "data": {"name": "labels"}, "transform": [{"filter": "datum.s === 'A3'"}],
 "mark": {"type": "text", "font": "Liberation Sans", "fontWeight": "bold", "fontSize": 36, "color": "#000000"},
 "encoding": {"y": {"field": "line", "type": "nominal", "scale": {"type": "point", "domain": ["name", "mut"], "range": [95, 140], "padding": 0}}, "text": {"field": "t"}}},
{"width": 793, "height": 160,
 "resolve": {"scale": {"y": "independent", "color": "independent"}},
 "layer": [
 {"data": {"name": "codons"}, "transform": [{"filter": "datum.s === 'A3' && datum.hl"}],
  "mark": {"type": "rect", "color": "#ffff00", "xOffset": -10, "x2Offset": 10, "yOffset": -15, "y2Offset": 13},
  "encoding": {"x": {"field": "start", "type": "quantitative", "scale": {"domain": [-0.5805, 18.409], "nice": false, "zero": false}}, "x2": {"field": "end"},
   "y": {"datum": "aa", "type": "nominal", "scale": {"type": "point", "domain": ["aa", "base"], "range": [20, 55], "padding": 0}}, "y2": {"datum": "aa"}}},
 {"data": {"name": "het"}, "transform": [{"filter": "datum.s === 'A3'"}],
  "mark": {"type": "rect", "color": "#ffff00", "xOffset": -24, "x2Offset": 23, "yOffset": -15, "y2Offset": 12},
  "encoding": {"x": {"field": "pos", "type": "quantitative", "scale": {"domain": [-0.5805, 18.409], "nice": false, "zero": false}}, "x2": {"field": "pos"},
   "y": {"datum": "base", "type": "nominal", "scale": {"type": "point", "domain": ["aa", "base"], "range": [20, 55], "padding": 0}}, "y2": {"datum": "base"}}},
 {"data": {"name": "codons"}, "transform": [{"filter": "datum.s === 'A3'"}],
  "mark": {"type": "rule", "color": "#aaaaaa", "strokeWidth": 1.5, "xOffset": -10, "x2Offset": 10, "yOffset": 13},
  "encoding": {"x": {"field": "start", "type": "quantitative", "scale": {"domain": [-0.5805, 18.409], "nice": false, "zero": false}}, "x2": {"field": "end"},
   "y": {"datum": "aa", "type": "nominal", "scale": {"type": "point", "domain": ["aa", "base"], "range": [20, 55], "padding": 0}}}},
 {"data": {"name": "codons"}, "transform": [{"filter": "datum.s === 'A3'"}],
  "mark": {"type": "text", "font": "Liberation Mono", "fontSize": 23, "color": "#222222"},
  "encoding": {"x": {"field": "mid", "type": "quantitative", "scale": {"domain": [-0.5805, 18.409], "nice": false, "zero": false}},
   "y": {"datum": "aa", "type": "nominal", "scale": {"type": "point", "domain": ["aa", "base"], "range": [20, 55], "padding": 0}}, "text": {"field": "aa"}}},
 {"data": {"name": "prefix"}, "transform": [{"filter": "datum.s === 'A3'"}],
  "mark": {"type": "text", "font": "Liberation Mono", "fontSize": 23, "color": "#222222", "align": "right", "dx": 6},
  "encoding": {"x": {"datum": 0, "type": "quantitative", "scale": {"domain": [-0.5805, 18.409], "nice": false, "zero": false}},
   "y": {"datum": "base", "type": "nominal", "scale": {"type": "point", "domain": ["aa", "base"], "range": [20, 55], "padding": 0}}, "text": {"field": "t"}}},
 {"data": {"name": "bases"}, "transform": [{"filter": "datum.s === 'A3'"}],
  "mark": {"type": "text", "font": "Liberation Mono", "fontSize": 23},
  "encoding": {"x": {"field": "pos", "type": "quantitative", "scale": {"domain": [-0.5805, 18.409], "nice": false, "zero": false}},
   "y": {"datum": "base", "type": "nominal", "scale": {"type": "point", "domain": ["aa", "base"], "range": [20, 55], "padding": 0}}, "text": {"field": "b"},
   "color": {"field": "b", "type": "nominal", "scale": {"domain": ["A", "C", "G", "T"], "range": ["#11dd11", "#0000ff", "#111111", "#ff0000"]}, "legend": null}}},
 {"data": {"name": "het"}, "transform": [{"filter": "datum.s === 'A3'"}],
  "mark": {"type": "text", "font": "Liberation Mono", "fontSize": 23, "align": "right", "dx": -7, "color": "#0000ff"},
  "encoding": {"x": {"field": "pos", "type": "quantitative", "scale": {"domain": [-0.5805, 18.409], "nice": false, "zero": false}},
   "y": {"datum": "base", "type": "nominal", "scale": {"type": "point", "domain": ["aa", "base"], "range": [20, 55], "padding": 0}}, "text": {"field": "b1"}}},
 {"data": {"name": "het"}, "transform": [{"filter": "datum.s === 'A3'"}],
  "mark": {"type": "text", "font": "Liberation Mono", "fontSize": 23, "align": "left", "dx": -7, "color": "#111111"},
  "encoding": {"x": {"field": "pos", "type": "quantitative", "scale": {"domain": [-0.5805, 18.409], "nice": false, "zero": false}},
   "y": {"datum": "base", "type": "nominal", "scale": {"type": "point", "domain": ["aa", "base"], "range": [20, 55], "padding": 0}}, "text": {"field": "b2"}}},
 {"data": {"name": "traces"}, "transform": [{"filter": "datum.s === 'A3'"}],
  "mark": {"type": "line", "interpolate": "monotone", "strokeWidth": 3.5},
  "encoding": {"x": {"field": "p", "type": "quantitative", "scale": {"domain": [-0.5805, 18.409], "nice": false, "zero": false}},
   "y": {"field": "v", "type": "quantitative", "scale": {"domain": [0, 100], "range": [154, 54], "nice": false, "zero": false}},
   "color": {"field": "d", "type": "nominal", "scale": {"domain": ["A", "C", "G", "T"], "range": ["#00b000", "#0000ff", "#000000", "#ff0000"]}, "legend": null}}}
 ]}
]
}
